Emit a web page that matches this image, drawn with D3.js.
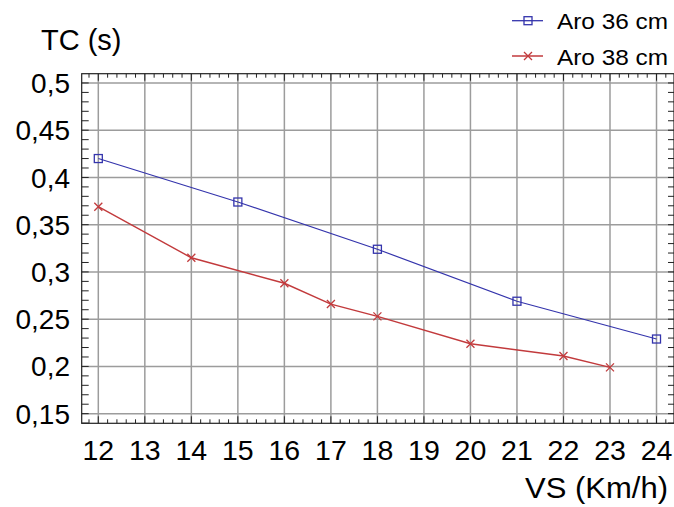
<!DOCTYPE html>
<html>
<head>
<meta charset="utf-8">
<script src="https://d3js.org/d3.v7.min.js"></script>
<style>
 body { margin: 0; background: #fff; }
 text { font-family: "Liberation Sans", Arial, sans-serif; fill: #000; }
</style>
</head>
<body>
<svg width="674" height="507"></svg>
<script>
 // data
 var vs36 = [12, 15, 18, 21, 24];
 var tc36 = [0.420, 0.374, 0.324, 0.269, 0.229];
 var vs38 = [12, 14, 16, 17, 18, 20, 22, 23];
 var tc38 = [0.369, 0.315, 0.288, 0.266, 0.253, 0.224, 0.211, 0.199];
 var xTicks = [12, 13, 14, 15, 16, 17, 18, 19, 20, 21, 22, 23, 24];
 var yTicks = [0.15, 0.2, 0.25, 0.3, 0.35, 0.4, 0.45, 0.5];
 var yTickLabels = ["0,15", "0,2", "0,25", "0,3", "0,35", "0,4", "0,45", "0,5"];
 var seriesNames = ["Aro 36 cm", "Aro 38 cm"];

 var svg = d3.select("svg");
 var L = 81.7, R = 674, T = 73.7, B = 423.3;
 var x = d3.scaleLinear().domain([11.643, 24.376]).range([L, R]);
 var y = d3.scaleLinear().domain([0.1398, 0.5098]).range([B, T]);

 var blue = "#3434ac", red = "#c23a3c";

 // grid
 var grid = svg.append("g");
 grid.selectAll(".gx").data(xTicks).enter().append("line")
    .attr("x1", d => x(d)).attr("x2", d => x(d))
    .attr("y1", T).attr("y2", B)
    .attr("stroke", "#9c9c9c").attr("stroke-width", 1.5);
 grid.selectAll(".gy").data(yTicks).enter().append("line")
    .attr("y1", d => y(d)).attr("y2", d => y(d))
    .attr("x1", L).attr("x2", R)
    .attr("stroke", "#9c9c9c").attr("stroke-width", 1.5);

 // minor ticks
 var xMinor = d3.range(0, 64).map(i => 11.8 + i * 0.2).filter(v => v > 11.65 && v < 24.37);
 var yMinor = d3.range(14, 51).map(i => i / 100);
 var tk = svg.append("g").attr("stroke", "#222").attr("stroke-width", 1);
 tk.selectAll(".xb").data(xMinor).enter().append("line")
    .attr("x1", d => x(d)).attr("x2", d => x(d))
    .attr("y1", B).attr("y2", d => Math.abs(d - Math.round(d)) < 0.01 ? B - 7 : B - 4);
 tk.selectAll(".xt").data(xMinor).enter().append("line")
    .attr("x1", d => x(d)).attr("x2", d => x(d))
    .attr("y1", T).attr("y2", d => Math.abs(d - Math.round(d)) < 0.01 ? T + 7 : T + 4);
 tk.selectAll(".yl").data(yMinor).enter().append("line")
    .attr("y1", d => y(d)).attr("y2", d => y(d))
    .attr("x1", L).attr("x2", L + 7);
 tk.selectAll(".yr").data(yMinor).enter().append("line")
    .attr("y1", d => y(d)).attr("y2", d => y(d))
    .attr("x1", R).attr("x2", R - 6);

 // frame
 svg.append("rect").attr("x", L).attr("y", T)
    .attr("width", R - L).attr("height", B - T)
    .attr("fill", "none").attr("stroke", "#222").attr("stroke-width", 1.2);

 // tick labels
 svg.append("g").selectAll("text").data(xTicks).enter().append("text")
    .attr("x", d => x(d)).attr("y", 460)
    .attr("text-anchor", "middle").attr("font-size", "28.5px")
    .text(d => d);
 svg.append("g").selectAll("text").data(yTicks).enter().append("text")
    .attr("x", 70).attr("y", d => y(d)).attr("dy", "0.36em")
    .attr("text-anchor", "end").attr("font-size", "28px")
    .text((d, i) => yTickLabels[i]);

 // axis titles
 svg.append("text").attr("x", 41).attr("y", 50)
    .attr("font-size", "29px").text("TC (s)");
 svg.append("text").attr("x", 668).attr("y", 498)
    .attr("text-anchor", "end").attr("font-size", "29px")
    .attr("textLength", 143).attr("lengthAdjust", "spacingAndGlyphs")
    .text("VS (Km/h)");

 var line = d3.line().x(d => x(d[0])).y(d => y(d[1]));
 var pts36 = vs36.map((v, i) => [v, tc36[i]]);
 var pts38 = vs38.map((v, i) => [v, tc38[i]]);

 svg.append("path").attr("d", line(pts36))
    .attr("fill", "none").attr("stroke", blue).attr("stroke-width", 1.2);
 svg.append("path").attr("d", line(pts38))
    .attr("fill", "none").attr("stroke", red).attr("stroke-width", 1.4);

 function square(g, cx, cy) {
     g.append("rect").attr("x", cx - 4).attr("y", cy - 4)
        .attr("width", 8).attr("height", 8)
        .attr("fill", "none").attr("stroke", blue).attr("stroke-width", 1.3);
 }
 function cross(g, cx, cy) {
     g.append("path")
        .attr("d", "M " + (cx - 4) + " " + (cy - 4) + " L " + (cx + 4) + " " + (cy + 4) +
                   " M " + (cx - 4) + " " + (cy + 4) + " L " + (cx + 4) + " " + (cy - 4))
        .attr("stroke", red).attr("stroke-width", 1.3);
 }
 var m = svg.append("g");
 pts36.forEach(d => square(m, x(d[0]), y(d[1])));
 pts38.forEach(d => cross(m, x(d[0]), y(d[1])));

 // legend
 var lg = svg.append("g");
 var rows = [20.7, 56];
 lg.append("line").attr("x1", 512).attr("x2", 543).attr("y1", rows[0]).attr("y2", rows[0])
    .attr("stroke", blue).attr("stroke-width", 1.3);
 square(lg, 528, rows[0]);
 lg.append("line").attr("x1", 512).attr("x2", 543).attr("y1", rows[1]).attr("y2", rows[1])
    .attr("stroke", red).attr("stroke-width", 1.5);
 cross(lg, 528, rows[1]);
 lg.selectAll("text").data(seriesNames).enter().append("text")
    .attr("x", 557).attr("y", (d, i) => rows[i] + 8.5)
    .attr("font-size", "22px")
    .attr("textLength", 111).attr("lengthAdjust", "spacingAndGlyphs")
    .text(d => d);
</script>
</body>
</html>
